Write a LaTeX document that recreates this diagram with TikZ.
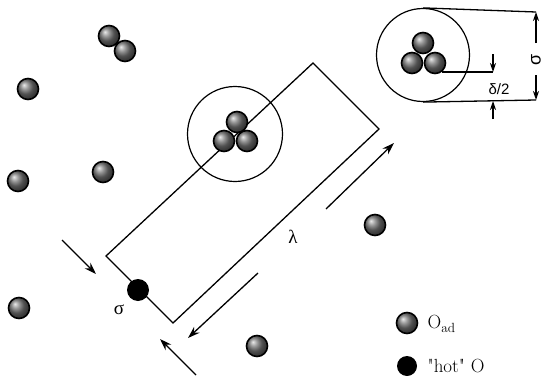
\documentclass[tikz,border=0pt]{standalone}
\usepackage{fontspec}
\newfontfamily\grkfont{Liberation Serif}
\newfontfamily\dimfont{Liberation Sans}
\usetikzlibrary{arrows.meta}
\begin{document}
\begin{tikzpicture}[x=1pt,y=-1pt,
  line width=1.3pt,
  ball/.style={circle, minimum size=21pt, inner sep=0pt, draw=black, line width=1.6pt,
               shading=ball, ball color=black!55},
  hotdot/.style={circle, minimum size=22pt, inner sep=0pt, fill=black},
  ring/.style={circle, draw=black, line width=1.2pt, inner sep=0pt},
  bigarrow/.style={-{Stealth[length=12pt,width=8pt]}},
  dimarrow/.style={-{Stealth[length=9pt,width=6pt]}},
  lbl/.style={font=\fontsize{19}{21}\selectfont, inner sep=0pt},
  grk/.style={font=\grkfont\fontsize{19}{21}\selectfont},
  dimlbl/.style={font=\dimfont\fontsize{15}{17}\selectfont}]
\useasboundingbox (0,0) rectangle (549,375);

% scattered adsorbed oxygen atoms
\node[ball] (s1) at (109,36) {};
\node[ball] (s2) at (125,51) {};
\node[ball] (s3) at (28,89) {};
\node[ball] (s4) at (18,181) {};
\node[ball] (s5) at (103,172) {};
\node[ball] (s6) at (19,308) {};
\node[ball] (s7) at (257,346) {};
\node[ball] (s8) at (375,225) {};

% the strip of length lambda and width sigma
\coordinate (rl) at (106,256);
\coordinate (rt) at (313,63);
\coordinate (rr) at (379,129);
\coordinate (rb) at (173,323);
\draw[line join=miter] (rl) -- (rt) -- (rr) -- (rb) -- cycle;

% hot atom on the strip edge
\node[hotdot] (hot) at (138,290) {};
\node[grk] (sig) at (119,310) {σ};
\node[grk] (lam) at (293,237) {λ};

% cluster inside the strip with its capture circle
\node[ring, minimum size=95pt] (c1) at (235,134) {};
\node[ball] (c1a) at (237,122) {};
\node[ball] (c1b) at (224,141) {};
\node[ball] (c1c) at (247,141) {};

% motion arrows
\coordinate (a1s) at (62,240);  \coordinate (a1e) at (96,274);
\coordinate (a2s) at (196,375); \coordinate (a2e) at (160,339);
\coordinate (a3s) at (258,273); \coordinate (a3e) at (188,338);
\coordinate (a4s) at (326,209); \coordinate (a4e) at (394,143);
\draw[bigarrow] (a1s) -- (a1e);
\draw[bigarrow] (a2s) -- (a2e);
\draw[bigarrow] (a3s) -- (a3e);
\draw[bigarrow] (a4s) -- (a4e);

% enlarged cluster with dimensions
\node[ring, minimum size=93pt] (c2) at (423,55) {};
\node[ball] (c2a) at (423,43) {};
\node[ball] (c2b) at (412,63) {};
\node[ball] (c2c) at (435,63) {};

\coordinate (dt) at (536,12);
\coordinate (db) at (536,100);
\draw (c2.north) -- (dt);
\draw (c2.south) -- (db);
\coordinate (dm1) at (536,43);
\coordinate (dm2) at (536,75);
\draw[dimarrow] (dm1) -- (dt);
\draw[dimarrow] (dm2) -- (db);
\node[dimlbl, font=\dimfont\fontsize{18}{20}\selectfont, rotate=90] (sigdim) at (536,60) {σ};

\coordinate (hl) at (442,72);
\coordinate (hr) at (493,72);
\draw (hl) -- (hr);
\coordinate (ha) at (493,54);
\draw[dimarrow] (ha) -- (hr);
\coordinate (hb) at (493,119);
\coordinate (hbt) at (493,101);
\draw[dimarrow] (hb) -- (hbt);
\node[dimlbl] (dhalf) at (499,89) {δ/2};

% legend
\node[ball] (lg1) at (407,323) {};
\node[lbl, anchor=west] (lg1t) at (427,324) {O\textsubscript{ad}};
\node[hotdot, minimum size=20pt] (lg2) at (407,366) {};
\node[lbl, anchor=west] (lg2t) at (427,366) {\textquotedbl hot\textquotedbl\ O};
\end{tikzpicture}
\end{document}
